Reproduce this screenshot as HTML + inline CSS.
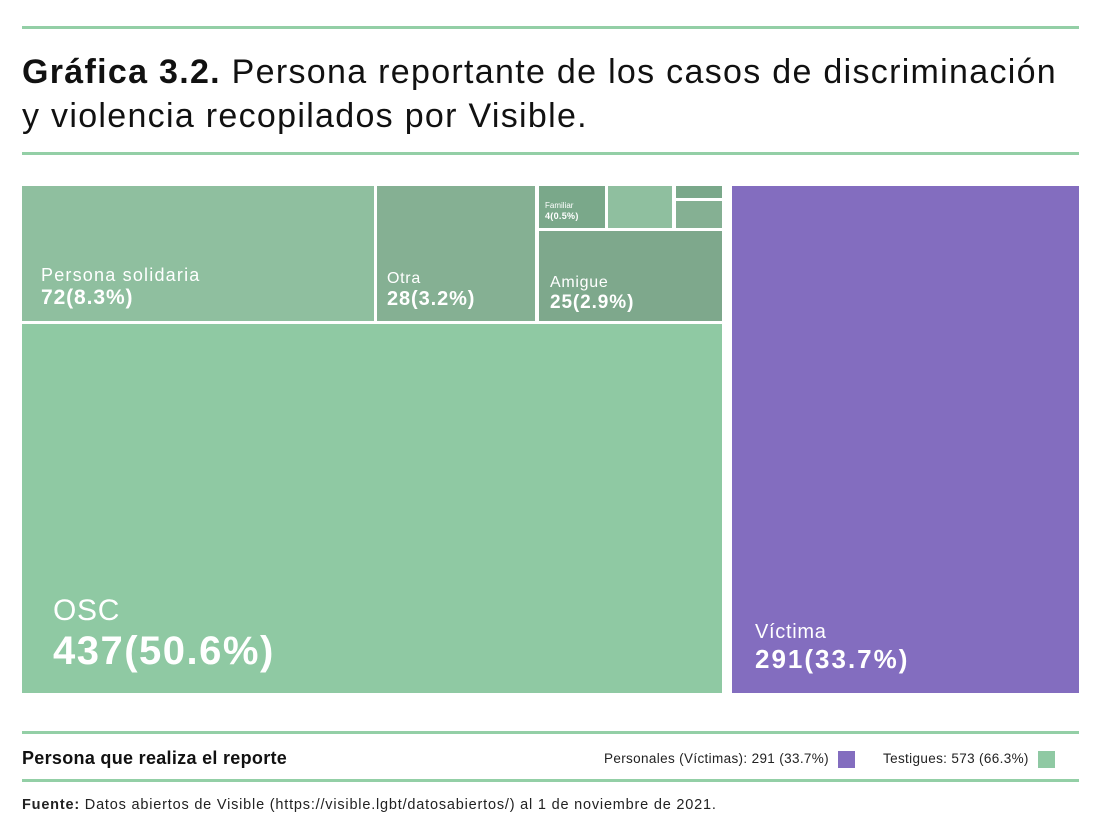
<!DOCTYPE html>
<html><head><meta charset="utf-8"><style>
body{margin:0;width:1110px;height:832px;background:#fff;position:relative;font-family:"Liberation Sans",sans-serif;overflow:hidden}
.l{position:absolute;left:22px;width:1057px;height:3px;background:#93cfa6}
.r{position:absolute;color:#fff}
.r .n{position:absolute;line-height:1;letter-spacing:0.7px}
.r .v{position:absolute;font-weight:bold;line-height:1;letter-spacing:0.9px}
</style></head><body>
<div class="l" style="top:26px"></div>
<div style="position:absolute;left:22px;top:50px;font-size:34px;line-height:44px;color:#111;letter-spacing:1.3px;white-space:nowrap"><b>Gráfica 3.2.</b> Persona reportante de los casos de discriminación<br>y violencia recopilados por Visible.</div>
<div class="l" style="top:152px"></div>

<div class="r" style="left:22px;top:186px;width:352px;height:135px;background:#8fbf9f"><span class="n" style="left:19px;top:80px;font-size:18px;letter-spacing:1.2px">Persona solidaria</span><span class="v" style="left:19px;top:101px;font-size:21px">72(8.3%)</span></div>
<div class="r" style="left:377px;top:186px;width:158px;height:135px;background:#85b093"><span class="n" style="left:10px;top:85px;font-size:16px">Otra</span><span class="v" style="left:10px;top:103px;font-size:20px">28(3.2%)</span></div>
<div class="r" style="left:539px;top:186px;width:66px;height:42px;background:#7aa88a"><span class="n" style="left:6px;top:16px;font-size:8px;letter-spacing:0">Familiar</span><span class="v" style="left:6px;top:26px;font-size:9px;letter-spacing:0.3px">4(0.5%)</span></div>
<div class="r" style="left:608px;top:186px;width:64px;height:42px;background:#8fbf9f"></div>
<div class="r" style="left:676px;top:186px;width:46px;height:12px;background:#7aa88a"></div>
<div class="r" style="left:676px;top:201px;width:46px;height:27px;background:#85b093"></div>
<div class="r" style="left:539px;top:231px;width:183px;height:90px;background:#7ea88c"><span class="n" style="left:11px;top:44px;font-size:16px">Amigue</span><span class="v" style="left:11px;top:62px;font-size:19px">25(2.9%)</span></div>
<div class="r" style="left:22px;top:324px;width:700px;height:369px;background:#8fc9a3"><span class="n" style="left:31px;top:272px;font-size:30px">OSC</span><span class="v" style="left:31px;top:307px;font-size:40px;letter-spacing:1.5px">437(50.6%)</span></div>
<div class="r" style="left:732px;top:186px;width:347px;height:507px;background:#836dbf"><span class="n" style="left:23px;top:436px;font-size:20px">Víctima</span><span class="v" style="left:23px;top:460px;font-size:26px;letter-spacing:2px">291(33.7%)</span></div>

<div class="l" style="top:731px"></div>
<div style="position:absolute;left:22px;top:748px;font-size:18px;font-weight:bold;color:#111;letter-spacing:0.3px">Persona que realiza el reporte</div>
<div style="position:absolute;left:604px;top:751px;font-size:13.5px;color:#222;letter-spacing:0.35px">Personales (Víctimas): 291 (33.7%)</div>
<div style="position:absolute;left:838px;top:751px;width:17px;height:17px;background:#836dbf"></div>
<div style="position:absolute;left:883px;top:751px;font-size:13.5px;color:#222;letter-spacing:0.35px">Testigues: 573 (66.3%)</div>
<div style="position:absolute;left:1038px;top:751px;width:17px;height:17px;background:#8fc9a3"></div>
<div class="l" style="top:779px"></div>
<div style="position:absolute;left:22px;top:797px;font-size:14.5px;color:#222;letter-spacing:0.8px;white-space:nowrap"><b>Fuente:</b> Datos abiertos de Visible (https://visible.lgbt/datosabiertos/) al 1 de noviembre de 2021.</div>
</body></html>
